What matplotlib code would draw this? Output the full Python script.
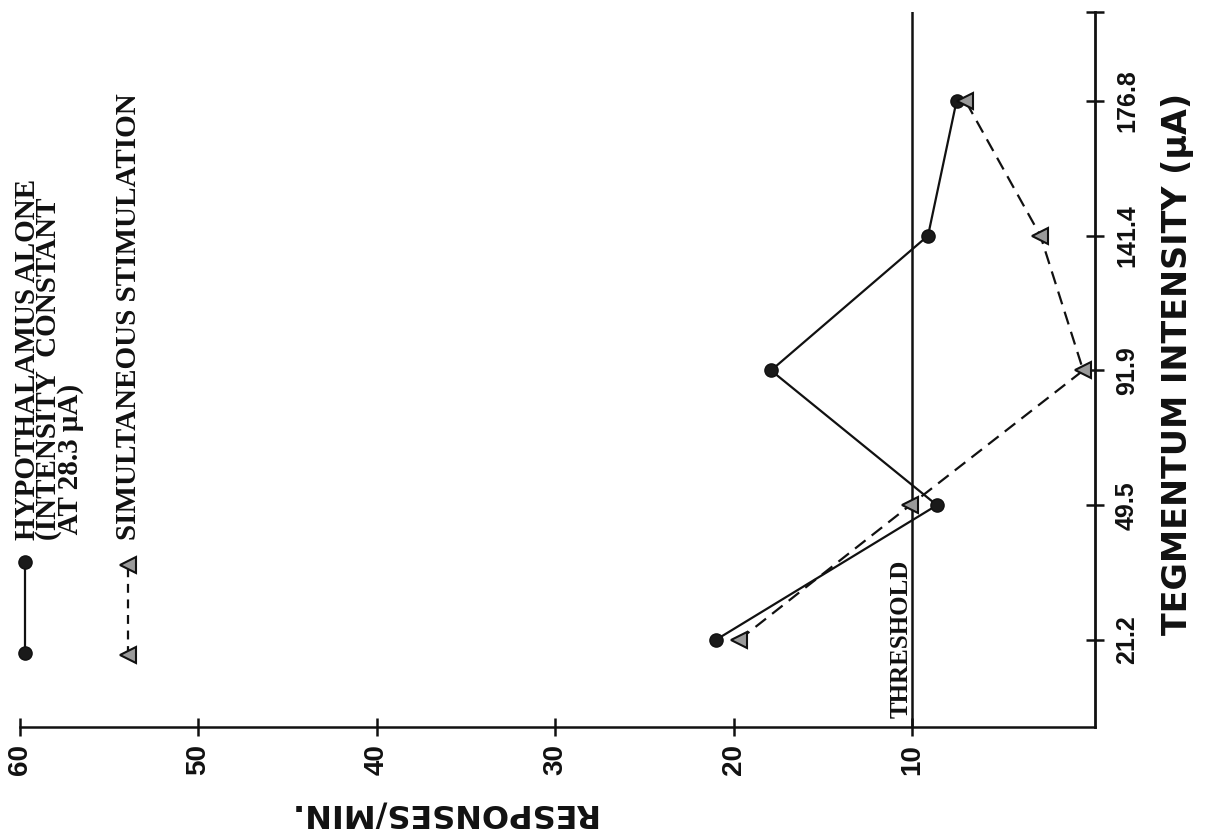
import numpy as np
import matplotlib
matplotlib.use("Agg")
import matplotlib.pyplot as plt
from matplotlib.lines import Line2D

# the original figure is printed turned 90 degrees: responses run right-to-left
# along the bottom, tegmentum intensity runs upward along the right edge
tegmentum_labels = ["21.2", "49.5", "91.9", "141.4", "176.8"]
hypothalamus_alone = [21.0, 8.6, 17.9, 9.1, 7.5]
simultaneous = [19.7, 10.1, 0.4, 2.8, 7.0]
response_ticks = [60, 50, 40, 30, 20, 10]
threshold = 10

INK = "#111111"
W, H = 1212, 839


def fx(x):
    return x / W


def fy(y):
    return 1 - y / H


fig = plt.figure(figsize=(W / 100, H / 100), dpi=100, facecolor="white")
ax = fig.add_axes([fx(20), fy(727), (1095 - 20) / W, (727 - 12) / H])
ax.set_facecolor("white")

pos = np.arange(len(tegmentum_labels))
ax.plot(hypothalamus_alone, pos, color=INK, lw=1.6, marker="o", ms=9.5,
        mfc="#1a1a1a", mec=INK, zorder=3, clip_on=False)
ax.plot(simultaneous, pos, color=INK, lw=1.6, ls=(0, (6, 3.5)), marker="<", ms=11,
        mfc="#9a9a9a", mec=INK, mew=1.5, zorder=3, clip_on=False)
ax.axvline(threshold, color=INK, lw=1.8)
ax.text(10.6, -0.58, "THRESHOLD", rotation=90, ha="center", va="bottom",
        family="Liberation Serif", fontweight="bold", fontsize=18, color=INK)

ax.set_xlim(60, -0.26)
ax.set_ylim(-0.646, 4.66)

for s in ["left", "top"]:
    ax.spines[s].set_visible(False)
ax.spines["bottom"].set_linewidth(1.8)
ax.spines["right"].set_linewidth(2.0)
ax.spines["bottom"].set_color(INK)
ax.spines["right"].set_color(INK)

ax.yaxis.tick_right()
ax.set_xticks(response_ticks, [str(v) for v in response_ticks], rotation=90,
              fontsize=20, fontweight="bold", family="Liberation Sans", color=INK)
ax.set_yticks(pos, tegmentum_labels, rotation=90, va="center",
              fontsize=18, fontweight="bold", family="Liberation Sans", color=INK)
ax.set_yticks([4.66], minor=True)
ax.tick_params(axis="x", direction="inout", length=13, width=1.8, pad=5.7, colors=INK)
ax.tick_params(axis="y", which="both", direction="inout", length=13, width=1.8,
               pad=7.9, colors=INK)

fig.text(fx(1178), fy(364), "TEGMENTUM INTENSITY (μA)", rotation=90, ha="center",
         va="center", fontsize=24, fontweight="bold", color=INK)
fig.text(fx(442), fy(813), "RESPONSES/MIN.", rotation=180, ha="center",
         va="center", fontsize=23, fontweight="bold", color=INK)

# hand-drawn key, top left
fig.add_artist(Line2D([fx(25), fx(25)], [fy(653), fy(562)], transform=fig.transFigure,
                      color=INK, lw=1.6, marker="o", ms=9.5, mfc="#1a1a1a", mec=INK))
fig.add_artist(Line2D([fx(128), fx(128)], [fy(655), fy(565)], transform=fig.transFigure,
                      color=INK, lw=1.6, ls=(0, (4, 3)), marker="<", ms=11,
                      mfc="#9a9a9a", mec=INK, mew=1.5))
key = dict(rotation=90, va="bottom", family="Liberation Serif",
           fontweight="bold", fontsize=21, color=INK)
fig.text(fx(14), fy(540), "HYPOTHALAMUS ALONE\n(INTENSITY  CONSTANT\n AT 28.3 μA)",
         ha="left", multialignment="left", linespacing=0.72, **key)
fig.text(fx(128), fy(540), "SIMULTANEOUS STIMULATION", ha="center", **key)

fig.savefig("out.png", dpi=100, facecolor="white")
